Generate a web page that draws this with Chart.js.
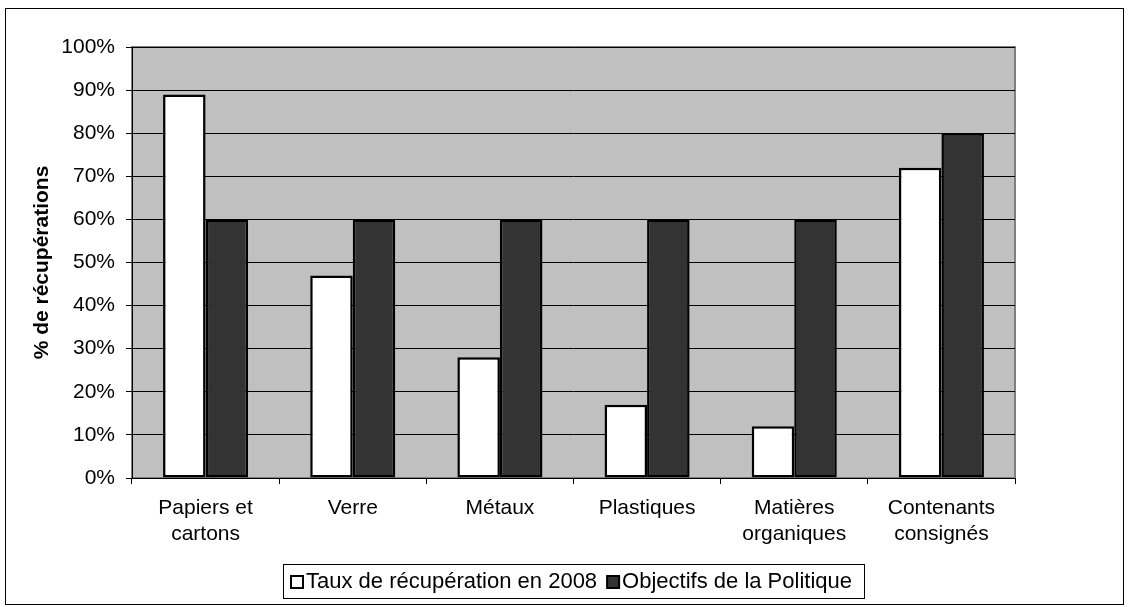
<!DOCTYPE html>
<html><head><meta charset="utf-8">
<script src="https://cdn.jsdelivr.net/npm/chart.js@4/dist/chart.umd.min.js"></script>
<style>html,body{margin:0;padding:0;background:#fff}#wrap{position:relative;width:1130px;height:607px}</style>
</head><body><div id="wrap"><canvas id="c" width="1130" height="607"></canvas></div>
<script>
const categories = [["Papiers et","cartons"],["Verre"],["Métaux"],["Plastiques"],["Matières","organiques"],["Contenants","consignés"]];
const taux2008 = [89, 47, 28, 17, 12, 72];
const objectifs = [60, 60, 60, 60, 60, 80];
const seriesNames = ["Taux de récupération en 2008","Objectifs de la Politique"];
const seriesColors = ["#FFFFFF","#333333"];
const yTitle = "% de récupérations";

const FONT = "'Liberation Sans', Arial, sans-serif";
const LEG_FONT = 22;
const decor = {
  id:'decor',
  beforeDraw(chart){
    const {ctx, chartArea:a} = chart;
    ctx.save();
    ctx.fillStyle='#fff'; ctx.fillRect(0,0,chart.width,chart.height);
    ctx.strokeStyle='#000'; ctx.lineWidth=1;
    ctx.strokeRect(5.5,8.5,1118,596);
    ctx.fillStyle='#C0C0C0';
    ctx.fillRect(a.left,a.top,a.right-a.left,a.bottom-a.top);
    ctx.strokeStyle='#808080'; ctx.lineWidth=2;
    ctx.strokeRect(a.left,a.top,a.right-a.left,a.bottom-a.top);
    ctx.restore();
  },
  afterDraw(chart){
    const {ctx, chartArea:a} = chart;
    ctx.save();
    ctx.strokeStyle='#000'; ctx.lineWidth=1;
    ctx.beginPath();
    ctx.moveTo(a.left+0.5,a.top); ctx.lineTo(a.left+0.5,a.bottom+0.5); ctx.lineTo(a.right,a.bottom+0.5);
    ctx.stroke();
    // legend
    ctx.font = LEG_FONT + "px " + FONT;
    const box = 12, gapT = 3, gapItem = 10;
    const widths = seriesNames.map(t => ctx.measureText(t).width);
    const content = widths.reduce((s,w)=>s+w,0) + seriesNames.length*(box+gapT) + gapItem*(seriesNames.length-1);
    const cx = (a.left + a.right)/2;
    const top = 564, h = 34;
    const left = Math.round(cx - (content + 20)/2);
    ctx.strokeStyle='#000'; ctx.lineWidth=1;
    ctx.strokeRect(left+0.5, top+0.5, Math.round(content+20), h);
    let x = left + 8;
    const cy = top + h/2 + 1;
    ctx.textBaseline='middle'; ctx.textAlign='left';
    seriesNames.forEach((t,i)=>{
      ctx.fillStyle = seriesColors[i];
      ctx.fillRect(x, cy-box/2, box, box);
      ctx.lineWidth = 2; ctx.strokeStyle='#000';
      ctx.strokeRect(x, cy-box/2, box, box);
      ctx.fillStyle='#000';
      ctx.fillText(t, x+box+gapT, cy);
      x += box + gapT + widths[i] + gapItem;
    });
    ctx.restore();
  }
};

new Chart(document.getElementById('c'), {
  type:'bar',
  data:{
    labels: categories,
    datasets:[
      {label: seriesNames[0], data: taux2008, backgroundColor:seriesColors[0], borderColor:'#000', borderWidth:2.5, borderSkipped:false},
      {label: seriesNames[1], data: objectifs, backgroundColor:seriesColors[1], borderColor:'#000', borderWidth:2.5, borderSkipped:false}
    ]
  },
  options:{
    responsive:false, animation:false,
    layout:{padding:{left:30, right:115, top:47, bottom:49}},
    datasets:{bar:{categoryPercentage:0.578, barPercentage:1.0}},
    plugins:{ legend:{display:false}, tooltip:{enabled:false} },
    scales:{
      x:{
        grid:{display:true, drawOnChartArea:false, drawTicks:true, tickLength:6, color:'#000', offset:true},
        border:{display:false},
        ticks:{font:{family:FONT,size:21, lineHeight:1.2}, color:'#000', maxRotation:0, padding:12},
        afterFit(s){ s.height = 80; }
      },
      y:{
        min:0, max:100,
        grid:{color:'#000', tickLength:6, drawTicks:true},
        border:{display:false},
        ticks:{stepSize:10, font:{family:FONT,size:21}, color:'#000', padding:11, callback:v=>v+'%'},
        title:{display:true, text:yTitle, font:{family:FONT,size:21,weight:'bold'}, color:'#000', padding:{top:0,bottom:0}},
        afterFit(s){ s.width = 102; }
      }
    }
  },
  plugins:[decor]
});
</script></body></html>
